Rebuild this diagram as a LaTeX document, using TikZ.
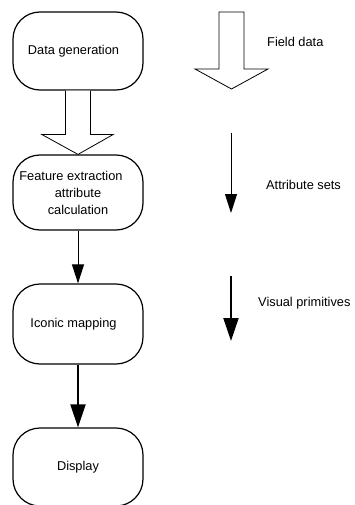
\documentclass[tikz,border=0pt]{standalone}
\usepackage{fontspec}
\setmainfont{Liberation Sans}
\usetikzlibrary{arrows.meta,calc}
\begin{document}
\begin{tikzpicture}[x=1pt,y=-1pt,
  box/.style={draw,line width=1.2pt,rounded corners=27pt,minimum width=130pt,align=center,inner sep=0pt,font=\fontsize{12.8}{17}\selectfont},
  lbl/.style={anchor=west,inner sep=0pt,font=\fontsize{12.8}{15}\selectfont},
  hollow/.style={draw,line width=0.8pt,fill=white,line join=miter},
  thinarr/.style={line width=1pt,-{Triangle[length=19pt,width=12pt]}},
  thickarr/.style={line width=2pt,-{Triangle[length=23pt,width=15pt]}}]
\useasboundingbox (0,0) rectangle (354,505);
\clip (0,0) rectangle (354,505);
% boxes
\node[box,minimum height=78pt] (b1) at (78,51) {\hspace*{-9pt}Data generation};
\node[box,minimum height=75pt] (b2) at (78,192.5) {\hspace*{-14pt}Feature extraction\\attribute\\calculation};
\node[box,minimum height=80pt] (b3) at (78,324) {\hspace*{-9pt}Iconic mapping};
\node[box,minimum height=78pt] (b4) at (78,467) {Display};
% hollow arrow b1 -> b2
\draw[hollow] ($(b1.south)+(-12.5,0)$) -- ($(b1.south)+(-12.5,44)$) -- ($(b1.south)+(-36,44)$)
  -- (b2.north) -- ($(b1.south)+(35,44)$) -- ($(b1.south)+(12.5,44)$) -- ($(b1.south)+(12.5,0)$);
% arrows
\draw[thinarr] (b2.south) -- (b3.north);
\draw[thickarr] (b3.south) -- (b4.north);
% legend
\coordinate (f0) at (231.5,12);
\coordinate (f1) at (231.5,89);
\draw[hollow] ($(f0)+(-12.5,0)$) -- ($(f0)+(-12.5,57)$) -- ($(f0)+(-36.5,57)$) -- (f1)
  -- ($(f0)+(36.5,57)$) -- ($(f0)+(12.5,57)$) -- ($(f0)+(12.5,0)$) -- cycle;
\node[lbl] (t1) at (267,42) {Field data};
\coordinate (a0) at (231,133);
\coordinate (a1) at (231,213);
\draw[thinarr] (a0) -- (a1);
\node[lbl] (t2) at (266,185) {Attribute sets};
\coordinate (v0) at (231,276);
\coordinate (v1) at (231,341);
\draw[thickarr] (v0) -- (v1);
\node[lbl] (t3) at (258,303) {Visual primitives};
\end{tikzpicture}
\end{document}
